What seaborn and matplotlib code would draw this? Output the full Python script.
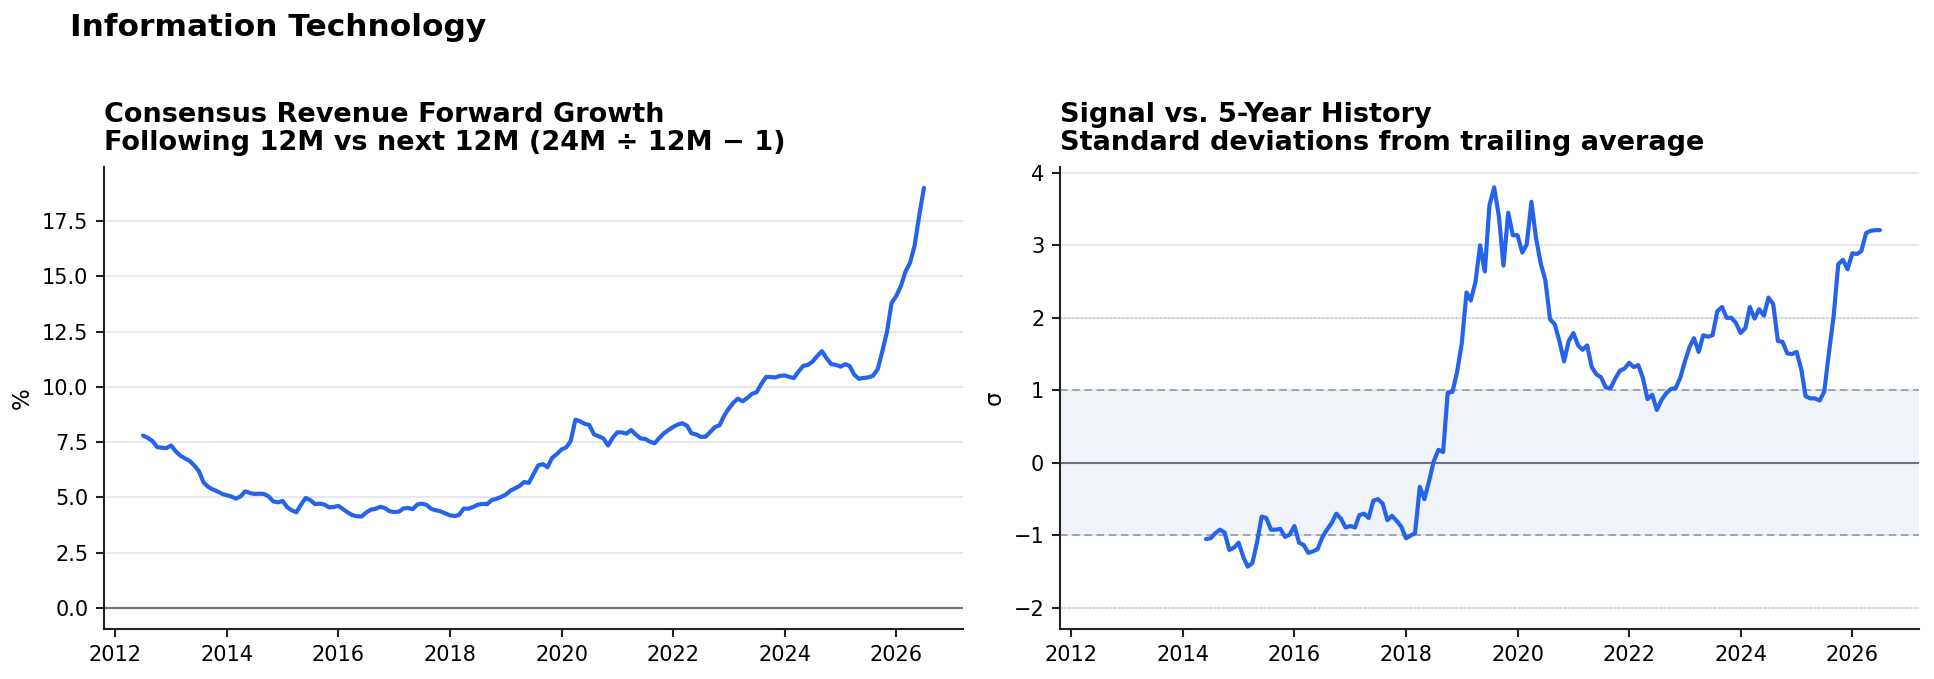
import numpy as np
import pandas as pd
import matplotlib
matplotlib.use("Agg")
import matplotlib.pyplot as plt
import seaborn as sns

# ---------------- data ----------------
start_month = "2012-07-01"
n_months = 169

growth_pct = [
    7.80, 7.70, 7.55, 7.28, 7.25, 7.23, 7.35, 7.08, 6.90, 6.77,
    6.66, 6.45, 6.20, 5.68, 5.48, 5.36, 5.27, 5.16, 5.10, 5.04,
    4.95, 5.05, 5.28, 5.20, 5.16, 5.17, 5.16, 5.05, 4.82, 4.78,
    4.84, 4.55, 4.42, 4.33, 4.67, 4.98, 4.88, 4.70, 4.72, 4.68,
    4.55, 4.57, 4.62, 4.47, 4.33, 4.20, 4.15, 4.14, 4.32, 4.45,
    4.49, 4.58, 4.52, 4.38, 4.34, 4.36, 4.50, 4.53, 4.47, 4.68,
    4.72, 4.66, 4.48, 4.42, 4.37, 4.28, 4.19, 4.16, 4.21, 4.50,
    4.49, 4.57, 4.67, 4.71, 4.70, 4.88, 4.94, 5.02, 5.13, 5.31,
    5.41, 5.52, 5.70, 5.66, 6.05, 6.45, 6.51, 6.37, 6.80, 6.96,
    7.17, 7.27, 7.55, 8.52, 8.45, 8.33, 8.28, 7.85, 7.77, 7.67,
    7.35, 7.70, 7.95, 7.94, 7.89, 8.05, 7.85, 7.67, 7.65, 7.53,
    7.45, 7.68, 7.90, 8.05, 8.19, 8.30, 8.36, 8.25, 7.90, 7.85,
    7.74, 7.75, 7.97, 8.18, 8.27, 8.70, 9.03, 9.30, 9.47, 9.35,
    9.50, 9.69, 9.76, 10.13, 10.45, 10.45, 10.43, 10.50, 10.52, 10.45,
    10.40, 10.70, 10.95, 11.00, 11.14, 11.40, 11.62, 11.30, 11.03, 11.00,
    10.92, 11.03, 10.95, 10.55, 10.37, 10.41, 10.43, 10.50, 10.80, 11.60,
    12.50, 13.80, 14.12, 14.58, 15.20, 15.62, 16.40, 17.80, 19.00,
]

zscore_start_offset = 23  # z-score begins once enough history exists
zscore_sigma = [
    -1.05, -1.04, -0.97, -0.92, -0.96, -1.20, -1.17, -1.10, -1.30, -1.43,
    -1.38, -1.10, -0.74, -0.76, -0.92, -0.92, -0.91, -1.02, -0.99, -0.87,
    -1.10, -1.13, -1.24, -1.22, -1.19, -1.03, -0.92, -0.83, -0.70, -0.77,
    -0.89, -0.87, -0.89, -0.72, -0.70, -0.76, -0.52, -0.50, -0.56, -0.79,
    -0.73, -0.80, -0.88, -1.04, -1.00, -0.97, -0.33, -0.50, -0.25, 0.02,
    0.18, 0.15, 0.97, 0.98, 1.25, 1.65, 2.35, 2.24, 2.50, 3.00,
    2.64, 3.55, 3.80, 3.40, 2.72, 3.45, 3.14, 3.14, 2.90, 3.01,
    3.60, 3.10, 2.75, 2.52, 1.98, 1.91, 1.68, 1.40, 1.68, 1.79,
    1.62, 1.56, 1.62, 1.32, 1.22, 1.18, 1.04, 1.03, 1.16, 1.27,
    1.30, 1.38, 1.32, 1.35, 1.17, 0.88, 0.94, 0.73, 0.87, 0.96,
    1.02, 1.03, 1.17, 1.40, 1.60, 1.72, 1.53, 1.76, 1.74, 1.76,
    2.09, 2.15, 2.00, 2.00, 1.93, 1.79, 1.86, 2.15, 1.99, 2.12,
    2.03, 2.28, 2.19, 1.68, 1.67, 1.51, 1.50, 1.53, 1.29, 0.92,
    0.89, 0.89, 0.86, 0.98, 1.52, 2.03, 2.74, 2.80, 2.67, 2.89,
    2.88, 2.92, 3.17, 3.20, 3.21, 3.21,
]

sup_title = "Information Technology"
left_title = "Consensus Revenue Forward Growth\nFollowing 12M vs next 12M (24M \u00f7 12M \u2212 1)"
right_title = "Signal vs. 5-Year History\nStandard deviations from trailing average"
left_ylabel = "%"
right_ylabel = "\u03c3"
left_yticks = [0.0, 2.5, 5.0, 7.5, 10.0, 12.5, 15.0, 17.5]
right_yticks = [-2, -1, 0, 1, 2, 3, 4]

dates = pd.date_range(start_month, periods=n_months, freq="MS")
df_left = pd.DataFrame({"date": dates, "value": growth_pct})
df_right = pd.DataFrame({"date": dates[zscore_start_offset:zscore_start_offset + len(zscore_sigma)],
                         "value": zscore_sigma})

# ---------------- style ----------------
sns.set_theme(style="ticks")
plt.rcParams["font.family"] = ["DejaVu Sans"]
plt.rcParams.update({
    "text.color": "black",
    "axes.labelcolor": "black",
    "axes.edgecolor": "#222222",
    "xtick.color": "#222222",
    "ytick.color": "#222222",
    "xtick.labelcolor": "black",
    "ytick.labelcolor": "black",
    "xtick.labelsize": 10,
    "ytick.labelsize": 10,
    "axes.labelsize": 11,
})

LINE = "#2563eb"
GRID = "#e2e4ea"
ZERO = "#6b7280"

fig = plt.figure(figsize=(1934 / 150, 679 / 150), dpi=150)
ax1 = fig.add_axes([104 / 1934, 1 - 629 / 679, (963 - 104) / 1934, (629 - 167) / 679])
ax2 = fig.add_axes([1060 / 1934, 1 - 629 / 679, (1919 - 1060) / 1934, (629 - 167) / 679], sharex=ax1)

# left panel
sns.lineplot(data=df_left, x="date", y="value", ax=ax1, color=LINE, linewidth=2.0)
ax1.axhline(0, color=ZERO, linewidth=1.0, zorder=1)
ax1.set_yticks(left_yticks)
ax1.yaxis.grid(True, color=GRID, linewidth=0.8)
ax1.set_axisbelow(True)
ax1.set_xlabel("")
ax1.set_ylabel(left_ylabel)
ax1.set_title(left_title, loc="left", fontsize=13, fontweight="bold", pad=8, linespacing=1.1, color="black")

# right panel
ax2.axhspan(-1, 1, color="#f0f3f8", zorder=0, linewidth=0)
sns.lineplot(data=df_right, x="date", y="value", ax=ax2, color=LINE, linewidth=2.0, zorder=3)
ax2.axhline(0, color=ZERO, linewidth=1.0, zorder=2)
for lvl in (1, -1):
    ax2.axhline(lvl, color="#94a3b8", linewidth=0.9, linestyle=(0, (4, 2.5)), zorder=2)
for lvl in (2, -2):
    ax2.axhline(lvl, color="#c3cbd8", linewidth=0.8, linestyle=(0, (1, 1.5)), zorder=2)
ax2.set_yticks(right_yticks)
ax2.set_ylim(-2.29, 4.08)
ax2.yaxis.grid(True, color=GRID, linewidth=0.8)
ax2.set_axisbelow(True)
ax2.set_xlabel("")
ax2.set_ylabel(right_ylabel)
ax2.set_title(right_title, loc="left", fontsize=13, fontweight="bold", pad=8, linespacing=1.1, color="black")
ax2.tick_params(labelbottom=True)

for ax in (ax1, ax2):
    sns.despine(ax=ax)
    ax.spines["left"].set_linewidth(1.0)
    ax.spines["bottom"].set_linewidth(1.0)
    ax.tick_params(length=4, width=1.0)
    ax.xaxis.set_major_locator(matplotlib.dates.YearLocator(2))
    ax.xaxis.set_major_formatter(matplotlib.dates.DateFormatter("%Y"))

fig.text(70 / 1934, 1 - 27 / 679, sup_title, fontsize=15, fontweight="bold", va="center", ha="left", color="black")

fig.savefig("out.png", dpi=150)
